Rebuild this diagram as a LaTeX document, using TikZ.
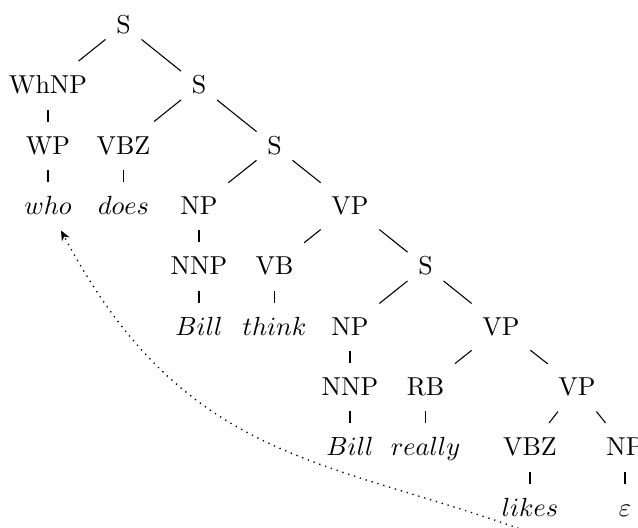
\documentclass[tikz,border=0pt]{standalone}
\usetikzlibrary{arrows.meta}
\begin{document}
\begin{tikzpicture}[x=0.41667pt,y=0.41667pt,
  tn/.style={inner xsep=4.3pt, inner ysep=6.5pt, text height=7pt, text depth=0pt, font=\fontsize{10.8pt}{13pt}\selectfont},
  lf/.style={tn, execute at begin node=$, execute at end node=$},
  edge/.style={line width=0.45pt},
  trace/.style={dotted, line width=0.55pt, -{Stealth[length=4.2pt,width=3.6pt]}}]
\useasboundingbox (0,0) rectangle (638,-527);
% row 0
\node[tn] (s0) at (123.5,-25) {S};
% row 1
\node[tn] (whnp) at (48,-85.5) {WhNP};
\node[tn] (s1) at (199,-85.5) {S};
% row 2
\node[tn] (wp) at (48,-146) {WP};
\node[tn] (vbza) at (123.5,-146) {VBZ};
\node[tn] (s2) at (274.5,-146) {S};
% row 3
\node[lf] (who) at (48,-206) {who};
\node[lf] (does) at (123.5,-206) {does};
\node[tn] (npa) at (199,-206) {NP};
\node[tn] (vpa) at (350,-206) {VP};
% row 4
\node[tn] (nnpa) at (199,-266.5) {NNP};
\node[tn] (vb) at (274.5,-266.5) {VB};
\node[tn] (s3) at (425.5,-266.5) {S};
% row 5
\node[lf] (billa) at (199,-327) {Bill};
\node[lf] (think) at (274.5,-327) {think};
\node[tn] (npb) at (350,-327) {NP};
\node[tn] (vpb) at (501,-327) {VP};
% row 6
\node[tn] (nnpb) at (350,-387) {NNP};
\node[tn] (rb) at (425.5,-387) {RB};
\node[tn] (vpc) at (577,-387) {VP};
% row 7
\node[lf] (billb) at (350,-447.5) {Bill};
\node[lf] (really) at (425.5,-447.5) {really};
\node[tn] (vbzb) at (530,-447.5) {VBZ};
\node[tn] (npc) at (625,-447.5) {NP};
% row 8
\node[lf] (likes) at (530,-508) {likes};
\node[lf] (eps) at (625,-508) {\varepsilon};
% edges
\draw[edge] (s0) -- (whnp);
\draw[edge] (s0) -- (s1);
\draw[edge] (whnp) -- (wp);
\draw[edge] (wp) -- (who);
\draw[edge] (s1) -- (vbza);
\draw[edge] (s1) -- (s2);
\draw[edge] (vbza) -- (does);
\draw[edge] (s2) -- (npa);
\draw[edge] (s2) -- (vpa);
\draw[edge] (npa) -- (nnpa);
\draw[edge] (nnpa) -- (billa);
\draw[edge] (vpa) -- (vb);
\draw[edge] (vpa) -- (s3);
\draw[edge] (vb) -- (think);
\draw[edge] (s3) -- (npb);
\draw[edge] (s3) -- (vpb);
\draw[edge] (npb) -- (nnpb);
\draw[edge] (nnpb) -- (billb);
\draw[edge] (vpb) -- (rb);
\draw[edge] (vpb) -- (vpc);
\draw[edge] (rb) -- (really);
\draw[edge] (vpc) -- (vbzb);
\draw[edge] (vpc) -- (npc);
\draw[edge] (vbzb) -- (likes);
\draw[edge] (npc) -- (eps);
% trace
\draw[trace] (likes.south) to[out=160, in=298, out distance=91.7pt, in distance=110pt] (who);
\end{tikzpicture}
\end{document}
